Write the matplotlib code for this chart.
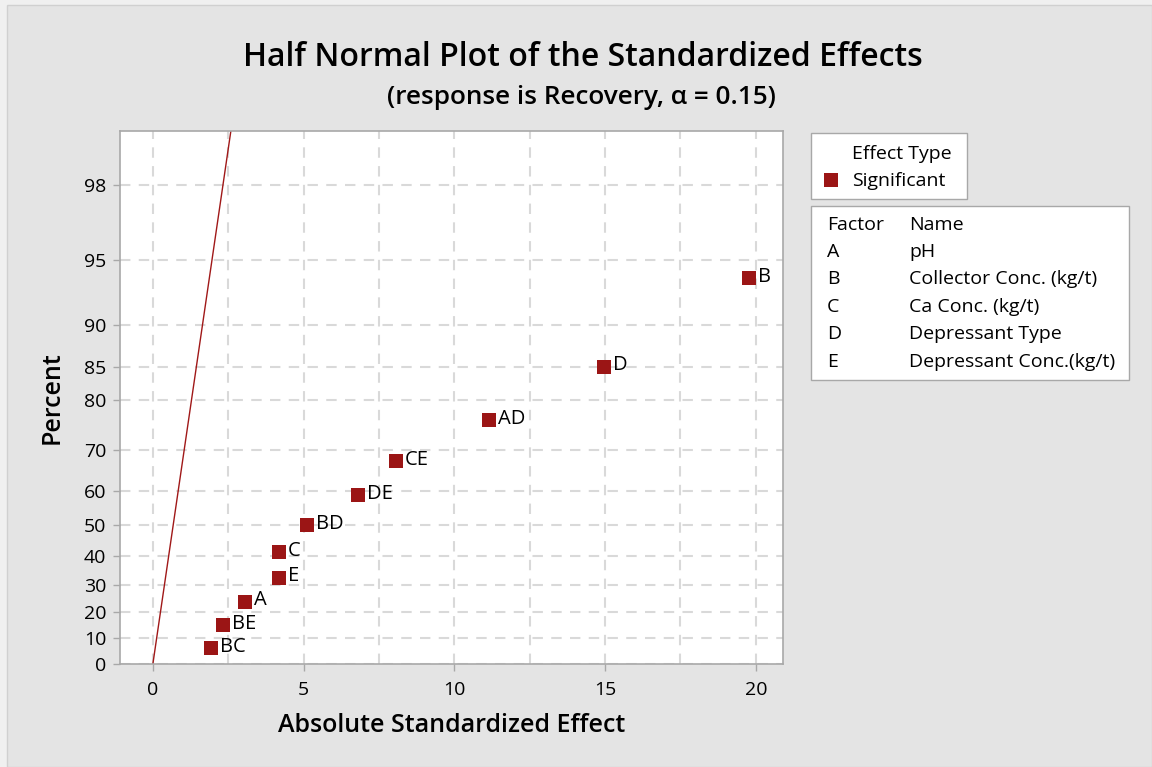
import numpy as np
import matplotlib
matplotlib.use("Agg")
import matplotlib.pyplot as plt
from matplotlib.patches import Rectangle
from statistics import NormalDist

# ---- data ----
effect_labels = ['BC', 'BE', 'A', 'E', 'C', 'BD', 'DE', 'CE', 'AD', 'D', 'B']
abs_effects = [1.92, 2.33, 3.06, 4.19, 4.19, 5.12, 6.80, 8.07, 11.15, 14.95, 19.77]
percents = [6.1, 14.9, 23.7, 32.5, 41.2, 50.0, 58.8, 67.5, 76.3, 85.1, 93.9]
y_ticks = [0, 10, 20, 30, 40, 50, 60, 70, 80, 85, 90, 95, 98]
x_ticks = [0, 5, 10, 15, 20]
ref_line_x = [0.0, 2.62]          # reference line (effect = half-normal quantile)
factor_codes = ['A', 'B', 'C', 'D', 'E']
factor_names = ['pH', 'Collector Conc. (kg/t)', 'Ca Conc. (kg/t)',
                'Depressant Type', 'Depressant Conc.(kg/t)']

FONT = ['Open Sans', 'DejaVu Sans']
plt.rcParams['font.family'] = FONT

W, H = 1152, 767
BG = '#e4e4e4'
RED = '#9b1515'
GRAY = '#a8a8a8'
TW = 'medium'

_nd = NormalDist()
_f = np.vectorize(lambda v: _nd.inv_cdf(0.5 + v / 200.0), otypes=[float])
_g = np.vectorize(lambda v: (2 * _nd.cdf(v) - 1) * 100.0, otypes=[float])

def fwd(p):
    p = np.clip(np.asarray(p, dtype=float), 0.0, 99.9999)
    return _f(p)

def inv(q):
    return _g(np.asarray(q, dtype=float))

def px(x, y):
    return x / W, 1 - y / H

fig = plt.figure(figsize=(W / 100, H / 100), dpi=100)
fig.patch.set_facecolor('#f0f0f0')
fig.patches.append(Rectangle(px(7, H), (W - 7) / W, (H - 5) / H,
                             transform=fig.transFigure, facecolor=BG,
                             edgecolor='#d0d0d0', linewidth=1.0, zorder=-10))

l, r, t, b = 120, 783, 131, 664
ax = fig.add_axes([l / W, 1 - b / H, (r - l) / W, (b - t) / H])
ax.set_facecolor('white')
ax.set_yscale('function', functions=(fwd, inv))
ax.set_xlim(-1.09, 20.9)
ax.set_ylim(0, float(inv(2.587)))

# grid
for xv in np.arange(0, 21, 2.5):
    ax.axvline(xv, color='#d9d9d9', lw=1.5, dashes=(5, 4), zorder=0)
for yv in y_ticks:
    ax.axhline(yv, color='#d9d9d9', lw=1.5, dashes=(5, 4), zorder=0)

# reference line
ref_y = [float(inv(v)) for v in ref_line_x]
ax.plot(ref_line_x, ref_y, color='#a01818', lw=1.0, zorder=2, clip_on=True)

# points
ax.plot(abs_effects, percents, linestyle='none', marker='s', markersize=9.6,
        markerfacecolor=RED, markeredgewidth=0, zorder=3)
for xe, yp, lab in zip(abs_effects, percents, effect_labels):
    ax.annotate(lab, (xe, yp), xytext=(6.5, 1), textcoords='offset points',
                ha='left', va='center', fontsize=14.5, fontweight=TW,
                color='black')

ax.set_xticks(x_ticks)
ax.set_yticks(y_ticks)
ax.set_yticklabels([str(v) for v in y_ticks])
ax.tick_params(axis='both', direction='out', length=5, width=1, color=GRAY,
               labelsize=14, pad=5)
for lab in ax.get_xticklabels() + ax.get_yticklabels():
    lab.set_fontweight(TW)
ax.tick_params(axis='x', pad=7)
ax.minorticks_off()
for s in ax.spines.values():
    s.set_color(GRAY)
    s.set_linewidth(1.2)

ax.set_xlabel('Absolute Standardized Effect', fontsize=18, fontweight='semibold',
              labelpad=10)
ax.set_ylabel('Percent', fontsize=18, fontweight='semibold', labelpad=14)

# titles
fig.text(*px(583, 58), 'Half Normal Plot of the Standardized Effects',
         ha='center', va='center', fontsize=23, fontweight='semibold')
fig.text(*px(581, 97), '(response is Recovery, \u03b1 = 0.15)',
         ha='center', va='center', fontsize=18.8, fontweight='semibold')

# legend box 1
x0, y0, x1, y1 = 811, 133, 967, 199
fig.patches.append(Rectangle(px(x0, y1), (x1 - x0) / W, (y1 - y0) / H,
                             transform=fig.transFigure, facecolor='white',
                             edgecolor=GRAY, linewidth=1.0, zorder=1))
fig.text(*px(852, 154), 'Effect Type', ha='left', va='center', fontsize=14,
         fontweight=TW)
fig.text(*px(852, 181), 'Significant', ha='left', va='center', fontsize=14,
         fontweight=TW)
fig.patches.append(Rectangle(px(824, 187), 14 / W, 14 / H,
                             transform=fig.transFigure, facecolor=RED,
                             edgecolor='none', zorder=2))

# legend box 2
x0, y0, x1, y1 = 811, 206, 1129, 380
fig.patches.append(Rectangle(px(x0, y1), (x1 - x0) / W, (y1 - y0) / H,
                             transform=fig.transFigure, facecolor='white',
                             edgecolor=GRAY, linewidth=1.0, zorder=1))
fig.text(*px(827, 225), 'Factor', ha='left', va='center', fontsize=14,
         fontweight=TW)
fig.text(*px(909, 225), 'Name', ha='left', va='center', fontsize=14,
         fontweight=TW)
for i, (c, n) in enumerate(zip(factor_codes, factor_names)):
    yy = 252 + i * 27.4
    fig.text(*px(827, yy), c, ha='left', va='center', fontsize=14, fontweight=TW)
    fig.text(*px(909, yy), n, ha='left', va='center', fontsize=14, fontweight=TW)

fig.savefig('out.png', dpi=100, facecolor=fig.get_facecolor())
